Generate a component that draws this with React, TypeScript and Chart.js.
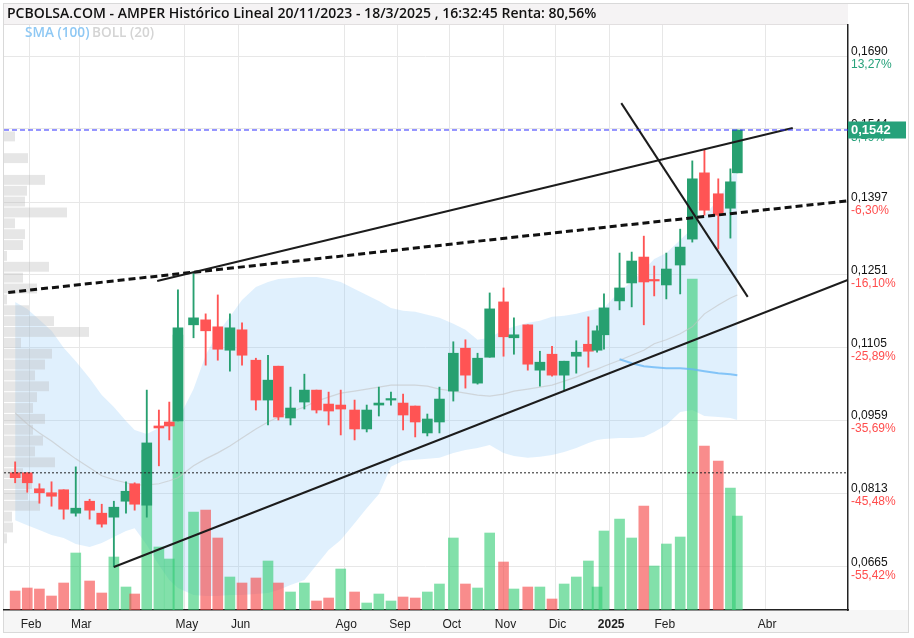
import React, { useEffect, useRef } from 'react';
import { Chart, registerables } from 'chart.js';

Chart.register(...registerables);

// ---------- DATA ----------
const titleText = 'PCBOLSA.COM - AMPER Histórico Lineal 20/11/2023 - 18/3/2025 , 16:32:45 Renta: 80,56%';

const dates = [
  '2024-01-24', '2024-01-31', '2024-02-07', '2024-02-14', '2024-02-21', '2024-02-28', '2024-03-07', '2024-03-14',
  '2024-03-21', '2024-03-28', '2024-04-02', '2024-04-09', '2024-04-16', '2024-04-22', '2024-04-27', '2024-05-06',
  '2024-05-13', '2024-05-20', '2024-05-27', '2024-06-03', '2024-06-11', '2024-06-18', '2024-06-24', '2024-07-01',
  '2024-07-09', '2024-07-16', '2024-07-23', '2024-07-30', '2024-08-07', '2024-08-14', '2024-08-21', '2024-08-28',
  '2024-09-04', '2024-09-11', '2024-09-18', '2024-09-25', '2024-10-03', '2024-10-10', '2024-10-17', '2024-10-24',
  '2024-11-01', '2024-11-07', '2024-11-15', '2024-11-22', '2024-11-29', '2024-12-06', '2024-12-13', '2024-12-20',
  '2024-12-25', '2024-12-29', '2025-01-07', '2025-01-14', '2025-01-21', '2025-01-27', '2025-02-03', '2025-02-11',
  '2025-02-18', '2025-02-25', '2025-03-05', '2025-03-12', '2025-03-16',
];

const opens = [
  0.0854, 0.0854, 0.0822, 0.0814, 0.0820, 0.0773, 0.0797, 0.0773, 0.0765, 0.0797, 0.0832, 0.0789, 0.0948, 0.0956,
  0.0958, 0.1151, 0.1161, 0.1147, 0.1100, 0.1141, 0.1080, 0.1000, 0.1068, 0.0964, 0.0996, 0.1020, 0.0992, 0.0990,
  0.0980, 0.0942, 0.0990, 0.1000, 0.0994, 0.0988, 0.0934, 0.0956, 0.1018, 0.1104, 0.1034, 0.1086, 0.1197, 0.1125,
  0.1151, 0.1060, 0.1092, 0.1050, 0.1088, 0.1112, 0.1100, 0.1131, 0.1199, 0.1235, 0.1287, 0.1241, 0.1231, 0.1271,
  0.1323, 0.1456, 0.1414, 0.1385, 0.1456,
];
const highs = [
  0.0876, 0.0854, 0.0832, 0.0836, 0.0820, 0.0866, 0.0801, 0.0791, 0.0797, 0.0836, 0.0834, 0.1020, 0.0980, 0.0996,
  0.1221, 0.1257, 0.1173, 0.1211, 0.1173, 0.1155, 0.1084, 0.1090, 0.1068, 0.1026, 0.1052, 0.1020, 0.1016, 0.1020,
  0.1000, 0.0990, 0.1026, 0.1016, 0.1012, 0.0988, 0.0972, 0.1026, 0.1117, 0.1121, 0.1094, 0.1215, 0.1225, 0.1165,
  0.1151, 0.1098, 0.1108, 0.1078, 0.1119, 0.1167, 0.1149, 0.1213, 0.1295, 0.1297, 0.1329, 0.1269, 0.1295, 0.1343,
  0.1480, 0.1502, 0.1444, 0.1464, 0.1542,
];
const lows = [
  0.0834, 0.0815, 0.0793, 0.0787, 0.0761, 0.0767, 0.0761, 0.0745, 0.0665, 0.0773, 0.0779, 0.0765, 0.0868, 0.0920,
  0.0958, 0.1125, 0.1070, 0.1080, 0.1058, 0.1070, 0.0980, 0.0950, 0.0960, 0.0950, 0.0982, 0.0974, 0.0950, 0.0930,
  0.0920, 0.0936, 0.0968, 0.0990, 0.0940, 0.0926, 0.0928, 0.0934, 0.0998, 0.1024, 0.1032, 0.1086, 0.1088, 0.1092,
  0.1060, 0.1028, 0.1048, 0.1020, 0.1054, 0.1066, 0.1096, 0.1102, 0.1181, 0.1187, 0.1151, 0.1209, 0.1203, 0.1213,
  0.1317, 0.1371, 0.1303, 0.1325, 0.1456,
];
const closes = [
  0.0844, 0.0834, 0.0814, 0.0807, 0.0781, 0.0783, 0.0779, 0.0751, 0.0785, 0.0817, 0.0791, 0.0914, 0.0944, 0.0948,
  0.1145, 0.1165, 0.1139, 0.1102, 0.1145, 0.1090, 0.1000, 0.1040, 0.0966, 0.0984, 0.1020, 0.0980, 0.0978, 0.0982,
  0.0942, 0.0980, 0.0994, 0.1002, 0.0970, 0.0956, 0.0962, 0.1002, 0.1094, 0.1050, 0.1084, 0.1183, 0.1127, 0.1131,
  0.1072, 0.1076, 0.1050, 0.1078, 0.1096, 0.1098, 0.1139, 0.1185, 0.1225, 0.1279, 0.1237, 0.1239, 0.1263, 0.1307,
  0.1444, 0.1381, 0.1371, 0.1438, 0.1542,
];
const volumes = [
  19, 22, 21, 14, 27, 57, 29, 17, 53, 23, 16, 160, 63, 51, 275, 98, 100, 72, 33, 27, 32, 49, 27, 18, 27, 9, 12, 41,
  18, 7, 16, 9, 13, 12, 18, 26, 72, 26, 22, 77, 48, 21, 23, 23, 11, 26, 33, 49, 23, 79, 91, 72, 104, 44, 66, 73, 331,
  164, 149, 122, 94,
];
const bollUpper = [
  0.1197, 0.1183, 0.1161, 0.1139, 0.1105, 0.1078, 0.1044, 0.1010, 0.0986, 0.0958, 0.0940, 0.0932, 0.0944, 0.0956,
  0.0960, 0.1022, 0.1090, 0.1135, 0.1167, 0.1201, 0.1227, 0.1237, 0.1243, 0.1245, 0.1247, 0.1247, 0.1243, 0.1237,
  0.1223, 0.1211, 0.1199, 0.1185, 0.1179, 0.1177, 0.1171, 0.1165, 0.1153, 0.1141, 0.1121, 0.1125, 0.1141, 0.1147,
  0.1155, 0.1159, 0.1167, 0.1169, 0.1173, 0.1179, 0.1183, 0.1185, 0.1219, 0.1237, 0.1261, 0.1283, 0.1295, 0.1321,
  0.1345, 0.1371, 0.1402, 0.1442, 0.1472,
];
const bollLower = [
  0.0759, 0.0749, 0.0739, 0.0729, 0.0723, 0.0711, 0.0705, 0.0713, 0.0725, 0.0737, 0.0743, 0.0709, 0.0669, 0.0639,
  0.0623, 0.0609, 0.0607, 0.0607, 0.0609, 0.0609, 0.0611, 0.0613, 0.0619, 0.0629, 0.0639, 0.0669, 0.0699, 0.0719,
  0.0753, 0.0783, 0.0811, 0.0866, 0.0878, 0.0880, 0.0882, 0.0884, 0.0894, 0.0900, 0.0904, 0.0910, 0.0894, 0.0888,
  0.0884, 0.0886, 0.0890, 0.0896, 0.0904, 0.0914, 0.0920, 0.0922, 0.0924, 0.0924, 0.0926, 0.0936, 0.0950, 0.0976,
  0.0980, 0.0968, 0.0966, 0.0964, 0.0960,
];
const bollMid = [
  0.0974, 0.0952, 0.0934, 0.0918, 0.0900, 0.0882, 0.0864, 0.0848, 0.0840, 0.0834, 0.0830, 0.0830, 0.0832, 0.0838,
  0.0844, 0.0868, 0.0882, 0.0894, 0.0908, 0.0924, 0.0942, 0.0956, 0.0966, 0.0976, 0.0986, 0.0998, 0.1006, 0.1014,
  0.1018, 0.1022, 0.1026, 0.1030, 0.1030, 0.1030, 0.1028, 0.1022, 0.1018, 0.1014, 0.1010, 0.1008, 0.1012, 0.1018,
  0.1022, 0.1026, 0.1030, 0.1038, 0.1046, 0.1056, 0.1062, 0.1068, 0.1080, 0.1090, 0.1100, 0.1113, 0.1121, 0.1133,
  0.1147, 0.1173, 0.1191, 0.1205, 0.1211,
];
const sma100Dates = ['2025-01-07', '2025-01-14', '2025-01-21', '2025-01-27', '2025-02-03', '2025-02-11', '2025-02-18', '2025-02-25', '2025-03-05', '2025-03-12', '2025-03-16'];
const sma100 = [0.1082, 0.1074, 0.1068, 0.1066, 0.1064, 0.1064, 0.1062, 0.1058, 0.1054, 0.1052, 0.1050];

// volume-by-price profile (from the top price down, one bin per step)
const profileTop = 0.1540;
const profileStep = 0.00218;
const profileVolumes = [
  11, 0, 24, 0, 41, 23, 21, 63, 11, 21, 19, 3, 45, 19, 33, 3, 25, 50, 85, 17, 48, 41, 31, 45, 33, 29, 41, 29, 39, 31,
  51, 19, 28, 24, 36, 8, 9, 3,
];

// trend lines: [date, price] pairs
const channelTop = [['2024-04-15', 0.1239], ['2025-04-17', 0.1546]];
const channelBottom = [['2024-03-21', 0.0665], ['2025-06-04', 0.1263]];
const dashedMid = [['2024-01-20', 0.1216], ['2025-06-04', 0.1406]];
const steepLine = [['2025-01-08', 0.1596], ['2025-03-22', 0.1207]];
const refLevel = 0.0854;
const lastPrice = 0.1542;
const lastPriceLabel = '0,1542';

const priceTicks = [0.1690, 0.1544, 0.1397, 0.1251, 0.1105, 0.0959, 0.0813, 0.0665];
const priceTickLabels = ['0,1690', '0,1544', '0,1397', '0,1251', '0,1105', '0,0959', '0,0813', '0,0665'];
const pctTickLabels = ['13,27%', '3,49%', '-6,30%', '-16,10%', '-25,89%', '-35,69%', '-45,48%', '-55,42%'];

const monthTickDates = ['2024-02-01', '2024-03-01', '2024-05-01', '2024-06-01', '2024-08-01', '2024-09-01', '2024-10-01', '2024-11-01', '2024-12-01', '2025-01-01', '2025-02-01', '2025-04-01'];
const monthTickLabels = ['Feb', 'Mar', 'May', 'Jun', 'Ago', 'Sep', 'Oct', 'Nov', 'Dic', '2025', 'Feb', 'Abr'];

// visible window (days since 2024-01-01) and price range
const viewFrom = 16.56;
const viewTo = 503.9;
const priceMin = 0.05787;
const priceMax = 0.17527;
const volumeMax = 585;

// ---------- HELPERS ----------
const dayOf = (s: string) => {
  const [y, m, d] = s.split('-').map(Number);
  return (Date.UTC(y, m - 1, d) - Date.UTC(2024, 0, 1)) / 86400000;
};

const GREEN = '#27a070';
const RED = '#ff5454';
const VOL_GREEN = 'rgba(46,204,113,0.6)';
const VOL_RED = 'rgba(245,70,70,0.62)';
const FONT = '"Liberation Sans", Arial, sans-serif';
const TITLE_FONT = '"Open Sans", "Noto Sans", sans-serif';

export default function App() {
  const ref = useRef<HTMLCanvasElement>(null);

  useEffect(() => {
    const xs = dates.map(dayOf);
    const candleColors = closes.map((c, i) => (c >= opens[i] ? GREEN : RED));
    const volColors = closes.map((c, i) =>
      (i === 0 ? c >= opens[0] : c >= closes[i - 1]) ? VOL_GREEN : VOL_RED
    );
    const seg = (pts: any[]) => pts.map(([d, p]) => ({ x: dayOf(d), y: p }));

    const decor = {
      id: 'decor',
      beforeDraw(chart: any) {
        const { ctx, chartArea: a } = chart;
        ctx.save();
        ctx.fillStyle = '#ffffff';
        ctx.fillRect(0, 0, chart.width, chart.height);
        ctx.fillStyle = '#f5f3f4';
        ctx.fillRect(4, 4, a.right - 4, a.top - 5);
        ctx.fillStyle = '#f6f6f6';
        ctx.fillRect(4, a.bottom, 904, 632 - a.bottom);
        ctx.strokeStyle = '#e2dfe0';
        ctx.lineWidth = 1;
        ctx.beginPath();
        ctx.moveTo(4, a.top - 0.5);
        ctx.lineTo(a.right, a.top - 0.5);
        ctx.stroke();
        ctx.strokeStyle = '#d9d9d9';
        ctx.strokeRect(3.5, 3.5, 905, 629);
        ctx.restore();
      },
      beforeDatasetsDraw(chart: any) {
        const { ctx, scales } = chart;
        const y = scales.y;
        const xp = scales.xProf;
        const x0 = xp.getPixelForValue(0);
        ctx.save();
        ctx.fillStyle = 'rgba(185,185,185,0.36)';
        profileVolumes.forEach((v, i) => {
          if (!v) return;
          const top = y.getPixelForValue(profileTop - i * profileStep);
          const bot = y.getPixelForValue(profileTop - (i + 1) * profileStep);
          ctx.fillRect(x0, top + 0.5, xp.getPixelForValue(v) - x0, bot - top - 1);
        });
        ctx.restore();
      },
      afterDraw(chart: any) {
        const { ctx, chartArea: a, scales } = chart;
        const y = scales.y;
        ctx.save();
        // title
        ctx.textBaseline = 'middle';
        ctx.textAlign = 'left';
        ctx.fillStyle = '#111';
        ctx.font = '600 14px ' + TITLE_FONT;
        ctx.fillText(titleText, 7, 14);
        // indicator legend
        ctx.font = '600 13.6px ' + TITLE_FONT;
        ctx.fillStyle = '#8ec8f4';
        ctx.fillText('SMA (100)', 25, 33);
        ctx.fillStyle = '#d4d4d4';
        ctx.fillText('BOLL (20)', 92, 33);
        // price axis labels
        ctx.font = '12px ' + FONT;
        priceTicks.forEach((v, i) => {
          const py = y.getPixelForValue(v);
          ctx.fillStyle = '#111';
          ctx.fillText(priceTickLabels[i], a.right + 3, py - 4.5);
          ctx.fillStyle = pctTickLabels[i].startsWith('-') ? '#ff4d4d' : '#26a17a';
          ctx.fillText(pctTickLabels[i], a.right + 3, py + 8.5);
        });
        // last price box
        const ly = y.getPixelForValue(lastPrice);
        ctx.fillStyle = '#26a17a';
        ctx.fillRect(a.right, ly - 8.5, 58, 17);
        ctx.fillStyle = '#ffffff';
        ctx.font = 'bold 13px ' + FONT;
        ctx.fillText(lastPriceLabel, a.right + 3, ly + 0.5);
        ctx.restore();
      },
    };

    const lineBase = { type: 'line' as const, pointRadius: 0, tension: 0, fill: false };

    const chart = new Chart(ref.current as HTMLCanvasElement, {
      type: 'bar',
      data: {
        datasets: [
          {
            ...lineBase,
            label: 'BOLL sup',
            data: xs.map((x, i) => ({ x, y: bollUpper[i] })),
            borderWidth: 0,
            borderColor: 'rgba(0,0,0,0)',
            backgroundColor: 'rgba(144,202,249,0.28)',
            fill: '+1',
            order: 30,
          },
          {
            ...lineBase,
            label: 'BOLL inf',
            data: xs.map((x, i) => ({ x, y: bollLower[i] })),
            borderWidth: 0,
            borderColor: 'rgba(0,0,0,0)',
            order: 29,
          },
          {
            type: 'bar',
            label: 'Volumen',
            yAxisID: 'yVol',
            data: xs.map((x, i) => ({ x, y: volumes[i] })),
            backgroundColor: volColors,
            barThickness: 10,
            grouped: false,
            borderWidth: 0,
            order: 25,
          },
          {
            ...lineBase,
            label: 'BOLL media',
            data: xs.map((x, i) => ({ x, y: bollMid[i] })),
            borderColor: 'rgba(195,195,195,0.6)',
            borderWidth: 1.2,
            order: 20,
          },
          {
            ...lineBase,
            label: 'SMA 100',
            data: sma100Dates.map((d, i) => ({ x: dayOf(d), y: sma100[i] })),
            borderColor: 'rgba(100,181,246,0.75)',
            borderWidth: 2,
            order: 19,
          },
          {
            type: 'bar',
            label: 'Mechas',
            data: xs.map((x, i) => ({ x, y: [lows[i], highs[i]] })),
            backgroundColor: candleColors,
            barThickness: 1.2,
            grouped: false,
            borderWidth: 0,
            order: 10,
          },
          {
            type: 'bar',
            label: 'Velas',
            data: xs.map((x, i) => ({ x, y: [opens[i], closes[i]] })),
            backgroundColor: candleColors,
            barThickness: 10,
            minBarLength: 1.5,
            grouped: false,
            borderWidth: 0,
            order: 9,
          },
          {
            ...lineBase,
            label: 'Canal sup',
            data: seg(channelTop),
            borderColor: '#1c1c1c',
            borderWidth: 2,
            order: 3,
          },
          {
            ...lineBase,
            label: 'Canal inf',
            data: seg(channelBottom),
            borderColor: '#1c1c1c',
            borderWidth: 2,
            order: 3,
          },
          {
            ...lineBase,
            label: 'Media',
            data: seg(dashedMid),
            borderColor: '#111',
            borderWidth: 3,
            borderDash: [7, 4],
            order: 3,
          },
          {
            ...lineBase,
            label: 'Bajista',
            data: seg(steepLine),
            borderColor: '#1c1c1c',
            borderWidth: 2,
            order: 3,
          },
          {
            ...lineBase,
            label: 'Nivel',
            data: [{ x: viewFrom, y: refLevel }, { x: viewTo, y: refLevel }],
            borderColor: '#222',
            borderWidth: 1,
            borderDash: [2, 2],
            order: 2,
          },
          {
            ...lineBase,
            label: 'Último',
            data: [{ x: viewFrom, y: lastPrice }, { x: viewTo, y: lastPrice }],
            borderColor: '#2b2bff',
            borderWidth: 1,
            borderDash: [5, 3],
            order: 2,
          },
        ] as any,
      },
      options: {
        animation: false,
        responsive: false,
        devicePixelRatio: 1,
        events: [],
        layout: { padding: { left: 4, top: 25, right: 6, bottom: 6 } },
        plugins: {
          legend: { display: false },
          tooltip: { enabled: false },
          title: { display: false },
          filler: { drawTime: 'beforeDatasetsDraw' },
        } as any,
        scales: {
          x: {
            type: 'linear',
            position: 'bottom',
            offset: false,
            min: viewFrom,
            max: viewTo,
            afterBuildTicks: (s: any) => {
              s.ticks = monthTickDates.map((d) => ({ value: dayOf(d) }));
            },
            afterFit: (s: any) => {
              s.height = 22;
            },
            grid: { color: '#e7e7e7', drawTicks: false, offset: false },
            border: { display: true, color: '#222', width: 1.5 },
            ticks: {
              autoSkip: false,
              maxRotation: 0,
              padding: 7,
              labelOffset: 2,
              color: '#222',
              font: (c: any) => ({
                family: FONT,
                size: 12,
                weight: c.tick && c.tick.label === '2025' ? 'bold' : 'normal',
              }),
              callback: (_v: any, i: number) => monthTickLabels[i],
            },
          },
          y: {
            type: 'linear',
            position: 'right',
            min: priceMin,
            max: priceMax,
            afterBuildTicks: (s: any) => {
              s.ticks = priceTicks.map((v) => ({ value: v }));
            },
            afterFit: (s: any) => {
              s.width = 60;
            },
            grid: { color: '#e7e7e7', drawTicks: false },
            border: { display: true, color: '#222', width: 1.5 },
            ticks: { display: false },
          },
          yVol: { type: 'linear', display: false, min: 0, max: volumeMax, position: 'left' },
          xProf: { type: 'linear', display: false, offset: false, min: 0, max: 844, position: 'top' },
        } as any,
      },
      plugins: [decor],
    } as any);

    return () => chart.destroy();
  }, []);

  return (
    <div style={{ position: 'absolute', left: 0, top: 0, width: 914, height: 638, background: '#fff' }}>
      <canvas ref={ref} width={914} height={638} style={{ display: 'block', width: 914, height: 638 }} />
    </div>
  );
}
